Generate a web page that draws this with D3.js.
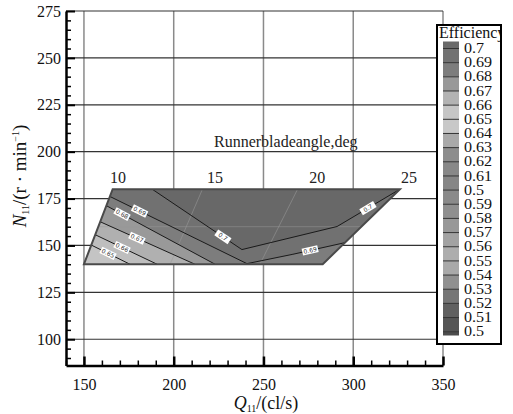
<!DOCTYPE html>
<html><head><meta charset="utf-8">
<script src="https://cdn.jsdelivr.net/npm/d3@7"></script>
<style>body{margin:0;background:#fff}</style>
</head><body><svg id="c" width="513" height="414"></svg>
<script>
// ---- data ----
const qTicks = [150, 200, 250, 300, 350];
const nTicks = [100, 125, 150, 175, 200, 225, 250, 275];
const regionQ = [150, 166, 326, 283];
const regionN = [140, 180, 180, 140];
const contourLevels = ["0.7", "0.69", "0.68", "0.67", "0.66", "0.65"];
const contourQ = [[188, 238, 291, 326], [164.5, 240.8, 266.4, 295.4], [162.3, 223], [158.9, 211.8], [156.1, 190.7], [153.7, 175.6]];
const contourN = [[180, 147.8, 160.1, 180], [176.1, 140.3, 145.3, 151.5], [171.3, 140], [162.7, 140], [155.8, 140], [150.4, 140]];
const bandFill = ["#686868", "#717171", "#7d7d7d", "#999999", "#b0b0b0", "#bebebe", "#c4c4c4"];
const labelLine = [0, 0, 1, 1, 2, 3, 4, 5];
const labelQ = [227.4, 308.2, 181, 276, 171.2, 179.5, 171.2, 163.4];
const angleValues = [10, 15, 20, 25];
const angleLabelQ = [169, 223, 280, 331];
const meshTopQ = [216, 269];
const meshBottomQ = [198, 248];
const meshN = [160];
const legendLabels = ["0.7","0.69","0.68","0.67","0.66","0.65","0.64","0.63","0.62","0.61","0.5","0.59","0.58","0.57","0.56","0.55","0.54","0.53","0.52","0.51","0.5"];
const legendFill = ["#6a6a6a","#727272","#7d7d7d","#999999","#b3b3b3","#c6c6c6","#c8c8c8","#a9a9a9","#8d8d8d","#888888","#868686","#8a8a8a","#8f8f8f","#989898","#a2a2a2","#adadad","#a9a9a9","#909090","#767676","#606060","#555555","#4d4d4d"];

// ---- setup ----
const svg = d3.select("#c");
const serif = "'Liberation Serif', 'Times New Roman', serif";
const x = d3.scaleLinear().domain([140, 350]).range([66, 443]);
const y = d3.scaleLinear().domain([86, 275]).range([365.5, 11]);

// grid
svg.append("g").selectAll("line").data(qTicks).join("line")
  .attr("x1", d => x(d)).attr("x2", d => x(d)).attr("y1", y(275)).attr("y2", y(86))
  .attr("stroke", "#8a8a8a").attr("stroke-width", 1.5);
svg.append("g").selectAll("line").data(nTicks).join("line")
  .attr("x1", x(140)).attr("x2", x(350)).attr("y1", d => y(d)).attr("y2", d => y(d))
  .attr("stroke", "#333").attr("stroke-width", 1.2);

// region
const regionPts = regionQ.map((q, i) => [x(q), y(regionN[i])]);
svg.append("clipPath").attr("id", "reg").append("polygon").attr("points", regionPts.join(" "));
const regG = svg.append("g").attr("clip-path", "url(#reg)");
regG.append("polygon").attr("points", regionPts.join(" ")).attr("fill", bandFill[0]);

function closing(k) {
  const qs = contourQ[k], ns = contourN[k];
  const first = [qs[0], ns[0]], last = [qs[qs.length - 1], ns[ns.length - 1]];
  let ext;
  if (last[1] > 140.5) ext = [[420, last[1] + (k === 0 ? 5 : 0)], [420, 120], [100, 120], [100, first[1] + (k === 0 ? 5 : 0)]];
  else ext = [[last[0], 120], [100, 120], [100, first[1]]];
  return qs.map((q, i) => [q, ns[i]]).concat(ext);
}
contourQ.forEach((qs, k) => {
  regG.append("polygon")
    .attr("points", closing(k).map(p => [x(p[0]), y(p[1])]).join(" "))
    .attr("fill", bandFill[k + 1]);
});
// faint mesh
regG.selectAll("line.m").data(meshTopQ).join("line").attr("class", "m")
  .attr("x1", (d) => x(d)).attr("y1", y(180)).attr("x2", (d, i) => x(meshBottomQ[i])).attr("y2", y(140))
  .attr("stroke", "#9a9a9a").attr("stroke-opacity", 0.55).attr("stroke-width", 1);
regG.selectAll("line.h").data(meshN).join("line").attr("class", "h")
  .attr("x1", x(140)).attr("x2", x(350)).attr("y1", d => y(d)).attr("y2", d => y(d))
  .attr("stroke", "#9a9a9a").attr("stroke-opacity", 0.5).attr("stroke-width", 1);
// contour lines
const line = d3.line().x(d => x(d[0])).y(d => y(d[1]));
contourQ.forEach((qs, k) => {
  regG.append("path").attr("d", line(qs.map((q, i) => [q, contourN[k][i]])))
    .attr("fill", "none").attr("stroke", "#1a1a1a").attr("stroke-width", 1);
});
svg.append("polygon").attr("points", regionPts.join(" "))
  .attr("fill", "none").attr("stroke", "#4a4a4a").attr("stroke-width", 2);

// contour labels
labelQ.forEach((q, j) => {
  const k = labelLine[j], qs = contourQ[k], ns = contourN[k];
  let s = 0;
  while (s < qs.length - 2 && q > qs[s + 1]) s++;
  const t = (q - qs[s]) / (qs[s + 1] - qs[s]);
  const n = ns[s] + t * (ns[s + 1] - ns[s]);
  const ang = Math.atan2(y(ns[s + 1]) - y(ns[s]), x(qs[s + 1]) - x(qs[s])) * 180 / Math.PI;
  const g = svg.append("g").attr("transform", `translate(${x(q)},${y(n)}) rotate(${ang})`);
  g.append("rect").attr("x", -8).attr("y", -3.5).attr("width", 16).attr("height", 7).attr("fill", "#fff");
  g.append("text").attr("text-anchor", "middle").attr("dy", "0.35em").attr("font-size", 6)
    .attr("font-family", "DejaVu Sans").attr("fill", "#333").text(contourLevels[k]);
});

// angle labels and title
svg.append("g").selectAll("text").data(angleValues).join("text")
  .attr("x", (d, i) => x(angleLabelQ[i])).attr("y", y(183.5)).attr("text-anchor", "middle")
  .attr("font-family", serif).attr("font-size", 16).attr("fill", "#222").text(d => d);
svg.append("text").attr("x", 214).attr("y", 147).attr("font-family", serif).attr("font-size", 16)
  .attr("fill", "#222").text("Runnerbladeangle,deg");

// axes
const yAxis = svg.append("g").attr("transform", `translate(${x(140)},0)`)
  .call(d3.axisLeft(y).tickValues(nTicks).tickSize(-9).tickSizeOuter(0).tickPadding(5).tickFormat(d3.format("d")));
svg.append("g").attr("transform", `translate(${x(140)},0)`)
  .call(d3.axisLeft(y).tickValues(d3.range(90, 276, 5).filter(v => v % 25)).tickSize(-5).tickSizeOuter(0).tickFormat(""))
  .select(".domain").remove();
const xAxis = svg.append("g").attr("transform", `translate(0,${y(86)})`)
  .call(d3.axisBottom(x).tickValues(qTicks).tickSize(-9).tickSizeOuter(0).tickPadding(13).tickFormat(d3.format("d")));
svg.append("g").attr("transform", `translate(0,${y(86)})`)
  .call(d3.axisBottom(x).tickValues(d3.range(140, 351, 10).filter(v => v % 50)).tickSize(-5).tickSizeOuter(0).tickFormat(""))
  .select(".domain").remove();
svg.selectAll(".tick line").attr("stroke", "#000").attr("stroke-width", 1.5);
[yAxis, xAxis].forEach(a => {
  a.select(".domain").attr("stroke", "#000").attr("stroke-width", 2.5);
  a.selectAll("text").attr("font-family", serif).attr("font-size", 16).attr("fill", "#111");
});
xAxis.selectAll(".tick line").attr("stroke-width", 2.5);
yAxis.selectAll(".tick line").attr("stroke-width", 2);

// axis titles
const xt = svg.append("text").attr("x", 266).attr("y", 409).attr("text-anchor", "middle")
  .attr("font-family", serif).attr("font-size", 18).attr("fill", "#111");
xt.append("tspan").attr("font-style", "italic").text("Q");
xt.append("tspan").attr("font-size", 10).attr("dy", 3).text("11");
xt.append("tspan").attr("dy", -3).text("/(cl/s)");

const yt = svg.append("text").attr("transform", "translate(26,176) rotate(-90)").attr("text-anchor", "middle")
  .attr("font-family", serif).attr("font-size", 19).attr("fill", "#111");
yt.append("tspan").attr("font-style", "italic").text("N");
yt.append("tspan").attr("font-size", 10).attr("dy", 3).text("11");
yt.append("tspan").attr("dy", -3).text("/(r · min");
yt.append("tspan").attr("font-size", 10).attr("dy", -7).text("−1");
yt.append("tspan").attr("dy", 7).text(")");

// legend
const lg = svg.append("g");
lg.append("rect").attr("x", 437).attr("y", 25).attr("width", 64).attr("height", 319)
  .attr("fill", "#fff").attr("stroke", "#000").attr("stroke-width", 2);
svg.append("clipPath").attr("id", "lgc").append("rect").attr("x", 437).attr("y", 25).attr("width", 63).attr("height", 319);
lg.append("text").attr("x", 439).attr("y", 38).attr("clip-path", "url(#lgc)")
  .attr("font-family", serif).attr("font-size", 16).attr("fill", "#111").text("Efficiency");
const c0 = 48.5, sp = 14.16, swTop = 41.5, swBot = 335.5;
const edges = [swTop].concat(legendLabels.map((d, i) => c0 + i * sp), [swBot]);
lg.selectAll("rect.sw").data(legendFill).join("rect").attr("class", "sw")
  .attr("x", 443).attr("width", 16).attr("y", (d, i) => edges[i]).attr("height", (d, i) => edges[i + 1] - edges[i])
  .attr("fill", d => d);
lg.selectAll("line.sep").data(legendLabels).join("line").attr("class", "sep")
  .attr("x1", 443).attr("x2", 459).attr("y1", (d, i) => c0 + i * sp).attr("y2", (d, i) => c0 + i * sp)
  .attr("stroke", "#333").attr("stroke-width", 1);
lg.selectAll("text.lab").data(legendLabels).join("text").attr("class", "lab")
  .attr("x", 464).attr("y", (d, i) => c0 + i * sp).attr("dy", "0.33em")
  .attr("font-family", serif).attr("font-size", 14).attr("fill", "#111")
  .attr("transform", (d, i) => `translate(${-464 * 0.15},0) scale(1.15,1)`).text(d => d);
</script></body></html>
